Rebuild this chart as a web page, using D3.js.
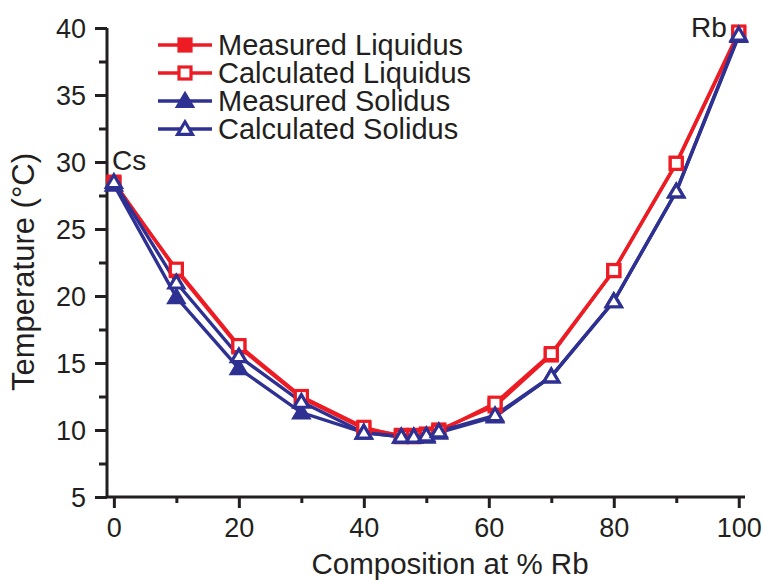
<!DOCTYPE html>
<html>
<head>
<meta charset="utf-8">
<script src="https://cdn.jsdelivr.net/npm/d3@7"></script>
<style>
  body { margin: 0; background: #fff; }
  text { font-family: "Liberation Sans", Arial, sans-serif; fill: #231f20; }
</style>
</head>
<body>
<script>
// chart size
const width = 765;
const height = 581;

// data
const composition = [0, 10, 20, 30, 40, 46, 48, 50, 52, 61, 70, 80, 90, 100];
const measuredLiquidus = [28.5, 21.9, 16.2, 12.4, 10.1, 9.6, 9.6, 9.7, 10.0, 11.8, 15.6, 21.9, 29.9, 39.6];
const calculatedLiquidus = [28.4, 22.0, 16.3, 12.5, 10.2, 9.5, 9.5, 9.6, 9.9, 12.0, 15.7, 21.9, 29.9, 39.7];
const measuredSolidus = [28.3, 19.9, 14.6, 11.3, 9.8, 9.5, 9.5, 9.5, 9.8, 11.0, 14.0, 19.6, 27.8, 39.4];
const calculatedSolidus = [28.5, 21.0, 15.5, 12.1, 9.8, 9.5, 9.5, 9.6, 9.9, 11.1, 14.0, 19.6, 27.8, 39.5];

const xTicks = [0, 20, 40, 60, 80, 100];
const yTicks = [5, 10, 15, 20, 25, 30, 35, 40];

const red = "#ed1c24";
const blue = "#2e3192";
const ink = "#231f20";

const series = [
  { name: "Measured Liquidus", values: measuredLiquidus, color: red, shape: "square", filled: true },
  { name: "Calculated Liquidus", values: calculatedLiquidus, color: red, shape: "square", filled: false },
  { name: "Measured Solidus", values: measuredSolidus, color: blue, shape: "triangle", filled: true },
  { name: "Calculated Solidus", values: calculatedSolidus, color: blue, shape: "triangle", filled: false }
];

var svg = d3.select("body").append("svg")
  .attr("width", width)
  .attr("height", height);

// scales
var x = d3.scaleLinear().domain([-1.1, 101]).range([107, 745]);
var y = d3.scaleLinear().domain([5, 40]).range([497, 28]);

// axes
var xAxis = svg.append("g")
  .attr("transform", "translate(0,497)")
  .call(d3.axisBottom(x).tickValues(d3.range(0, 101, 10)).tickSize(11)
    .tickFormat(d => xTicks.includes(d) ? d : ""));

var yAxis = svg.append("g")
  .attr("transform", "translate(107,0)")
  .call(d3.axisLeft(y).tickValues(d3.range(5, 40.1, 2.5)).tickSize(12)
    .tickFormat(d => yTicks.includes(d) ? d : ""));

[xAxis, yAxis].forEach(function (g) {
  g.select(".domain").attr("stroke", ink).attr("stroke-width", 3);
  g.selectAll(".tick line").attr("stroke", ink).attr("stroke-width", 3);
  g.selectAll(".tick text").style("font-size", "27px")
    .style("font-family", "'Liberation Sans', Arial, sans-serif").attr("fill", ink);
});
xAxis.select(".domain").attr("d", "M107,0H745");
xAxis.selectAll(".tick line").attr("y2", d => xTicks.includes(d) ? 11 : 6);
xAxis.selectAll(".tick text").attr("y", 21);
yAxis.select(".domain").attr("d", "M0,497V28");
yAxis.selectAll(".tick line").attr("x2", d => yTicks.includes(d) ? -12 : -8);
yAxis.selectAll(".tick text").attr("x", -21).attr("dy", "0.36em");

// axis titles
svg.append("text")
  .attr("x", 450).attr("y", 574)
  .attr("text-anchor", "middle")
  .style("font-size", "29.5px")
  .text("Composition at % Rb");

svg.append("text")
  .attr("transform", "translate(34,272) rotate(-90)")
  .attr("text-anchor", "middle")
  .style("font-size", "31px")
  .text("Temperature (°C)");

// lines
var line = d3.line()
  .x((d, i) => x(composition[i]))
  .y(d => y(d));

function marker(sel, s, size) {
  if (s.shape === "square") {
    sel.append("rect")
      .attr("x", -size / 2).attr("y", -size / 2)
      .attr("width", size).attr("height", size);
  } else {
    var w = size * 0.62;
    sel.append("path")
      .attr("d", "M0," + (-size * 0.6) + "L" + w + "," + (size * 0.45) + "L" + (-w) + "," + (size * 0.45) + "Z");
  }
  sel.selectAll("rect,path")
    .attr("fill", s.filled ? s.color : "#fff")
    .attr("stroke", s.color)
    .attr("stroke-width", 3.2)
    .attr("stroke-linejoin", "miter");
}

series.forEach(function (s) {
  svg.append("path")
    .datum(s.values)
    .attr("d", line)
    .attr("fill", "none")
    .attr("stroke", s.color)
    .attr("stroke-width", 3.4);
});

series.forEach(function (s) {
  svg.append("g").selectAll("g")
    .data(s.values)
    .enter().append("g")
    .attr("transform", (d, i) => "translate(" + x(composition[i]) + "," + y(d) + ")")
    .each(function () { marker(d3.select(this), s, 12); });
});

// end labels
svg.append("text").attr("x", 112).attr("y", 170).style("font-size", "28px").text("Cs");
svg.append("text").attr("x", 691).attr("y", 37).style("font-size", "28px").text("Rb");

// legend
var legend = svg.append("g").selectAll("g")
  .data(series)
  .enter().append("g")
  .attr("transform", (d, i) => "translate(158," + (45 + i * 28) + ")");

legend.append("line")
  .attr("x1", 0).attr("x2", 54)
  .attr("stroke", d => d.color)
  .attr("stroke-width", 3.4);

legend.append("g")
  .attr("transform", "translate(27,0)")
  .each(function (d) { marker(d3.select(this), d, 12); });

legend.append("text")
  .attr("x", 60).attr("dy", "0.34em")
  .style("font-size", "29px")
  .attr("textLength", null)
  .text(d => d.name);
</script>
</body>
</html>
